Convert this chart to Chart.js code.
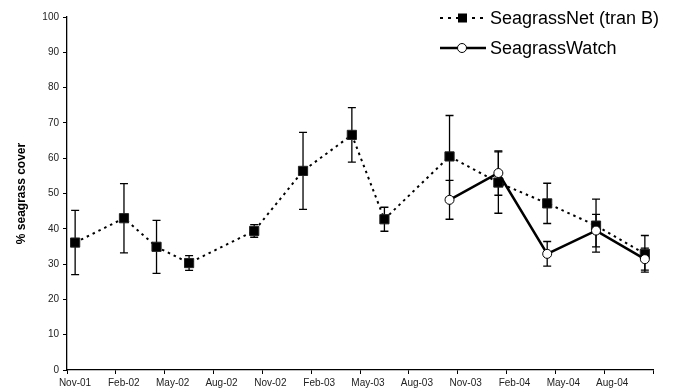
<!DOCTYPE html>
<html>
<head>
<meta charset="utf-8">
<script src="https://cdn.jsdelivr.net/npm/chart.js@4.4.0/dist/chart.umd.min.js"></script>
<style>
  body { margin: 0; background: #fff; }
  #wrap { width: 681px; height: 389px; }
</style>
</head>
<body>
<div id="wrap"><canvas id="chart" width="681" height="389"></canvas></div>
<script>
// axis ticks, one every 3 months starting Nov-01
const tickLabels = ['Nov-01', 'Feb-02', 'May-02', 'Aug-02', 'Nov-02', 'Feb-03', 'May-03',
  'Aug-03', 'Nov-03', 'Feb-04', 'May-04', 'Aug-04', ''];

// SeagrassNet (tran B)
const netDates = ['2001-11', '2002-02', '2002-04', '2002-06', '2002-10', '2003-01', '2003-04',
  '2003-06', '2003-10', '2004-01', '2004-04', '2004-07', '2004-10'];
const netCover = [36.1, 43.0, 34.9, 30.3, 39.4, 56.4, 66.6, 42.7, 60.5, 53.1, 47.2, 40.9, 32.9];
const netErr = [9.1, 9.8, 7.5, 2.1, 1.8, 10.9, 7.7, 3.4, 11.6, 8.7, 5.7, 7.5, 5.2];

// SeagrassWatch
const watchDates = ['2003-10', '2004-01', '2004-04', '2004-07', '2004-10'];
const watchCover = [48.2, 55.8, 32.9, 39.5, 31.4];
const watchErr = [5.5, 6.3, 3.5, 4.6, 3.1];

// months since Nov 2001, centred in the month
function monthPos(d) {
  const parts = d.split('-');
  return (parseInt(parts[0]) - 2001) * 12 + (parseInt(parts[1]) - 11) + 0.5;
}

function toPoints(dates, vals) {
  return dates.map((d, i) => ({ x: monthPos(d), y: vals[i] }));
}

const font = "'Liberation Sans', Arial, sans-serif";

// vertical error bars with caps, behind the markers
const errorBars = {
  id: 'errorBars',
  beforeDatasetsDraw(chart) {
    const ctx = chart.ctx;
    const xs = chart.scales.x, ys = chart.scales.y;
    ctx.save();
    ctx.strokeStyle = '#000';
    ctx.lineWidth = 1.3;
    chart.data.datasets.forEach(ds => {
      ds.data.forEach((p, i) => {
        const x = xs.getPixelForValue(p.x);
        const top = ys.getPixelForValue(p.y + ds.err[i]);
        const bot = ys.getPixelForValue(p.y - ds.err[i]);
        ctx.beginPath();
        ctx.moveTo(x, top); ctx.lineTo(x, bot);
        ctx.moveTo(x - 4, top); ctx.lineTo(x + 4, top);
        ctx.moveTo(x - 4, bot); ctx.lineTo(x + 4, bot);
        ctx.stroke();
      });
    });
    ctx.restore();
  }
};

// legend drawn by hand so it can show line + marker
const lineLegend = {
  id: 'lineLegend',
  afterDraw(chart) {
    const ctx = chart.ctx;
    ctx.save();
    ctx.font = '18px ' + font;
    ctx.textBaseline = 'middle';
    ctx.fillStyle = '#000';
    ctx.strokeStyle = '#000';

    // row 1
    let y = 18;
    ctx.lineWidth = 2;
    ctx.setLineDash([3, 5]);
    ctx.beginPath(); ctx.moveTo(440, y); ctx.lineTo(486, y); ctx.stroke();
    ctx.setLineDash([]);
    ctx.fillRect(458, y - 4.5, 9, 9);
    ctx.fillText('SeagrassNet (tran B)', 490, y + 1);

    // row 2
    y = 48;
    ctx.lineWidth = 2.5;
    ctx.beginPath(); ctx.moveTo(440, y); ctx.lineTo(486, y); ctx.stroke();
    ctx.beginPath(); ctx.arc(462, y, 4.5, 0, Math.PI * 2);
    ctx.fillStyle = '#fff'; ctx.fill();
    ctx.lineWidth = 1; ctx.stroke();
    ctx.fillStyle = '#000';
    ctx.fillText('SeagrassWatch', 490, y + 1);
    ctx.restore();
  }
};

const chart = new Chart(document.getElementById('chart'), {
  type: 'line',
  data: {
    datasets: [
      {
        label: 'SeagrassNet (tran B)',
        data: toPoints(netDates, netCover),
        err: netErr,
        order: 2,
        borderColor: '#000',
        borderWidth: 2,
        borderDash: [2.5, 4],
        pointStyle: 'rect',
        pointRadius: 6.5,
        pointBackgroundColor: '#000',
        pointBorderColor: '#222',
        pointBorderWidth: 1,
        tension: 0
      },
      {
        label: 'SeagrassWatch',
        data: toPoints(watchDates, watchCover),
        err: watchErr,
        order: 1,
        borderColor: '#000',
        borderWidth: 2.5,
        pointStyle: 'circle',
        pointRadius: 4.5,
        pointBackgroundColor: '#fff',
        pointBorderColor: '#000',
        pointBorderWidth: 1,
        tension: 0
      }
    ]
  },
  options: {
    responsive: false,
    animation: false,
    layout: { padding: { top: 17, right: 28, left: 0, bottom: 0 } },
    plugins: { legend: { display: false }, tooltip: { enabled: false } },
    scales: {
      x: {
        type: 'linear',
        min: 0, max: 36,
        afterFit: s => { s.height = 19; },
        grid: { drawOnChartArea: false, drawTicks: true, tickLength: 4, tickColor: '#000' },
        border: { color: '#000', width: 1.3 },
        ticks: {
          stepSize: 3, autoSkip: false, maxRotation: 0, padding: 3,
          labelOffset: 8,
          color: '#222',
          font: { family: font, size: 10 },
          callback: v => tickLabels[v / 3]
        }
      },
      y: {
        min: 0, max: 100,
        afterFit: s => { s.width = 67; },
        grid: { drawOnChartArea: false, drawTicks: true, tickLength: 4, tickColor: '#000' },
        border: { color: '#000', width: 1.3 },
        ticks: {
          stepSize: 10, padding: 4,
          color: '#222',
          font: { family: font, size: 10 }
        },
        title: {
          display: true,
          text: '% seagrass cover',
          color: '#000',
          padding: { top: 14, bottom: 0 },
          font: { family: font, size: 12, weight: 'bold' }
        }
      }
    }
  },
  plugins: [errorBars, lineLegend]
});
</script>
</body>
</html>
